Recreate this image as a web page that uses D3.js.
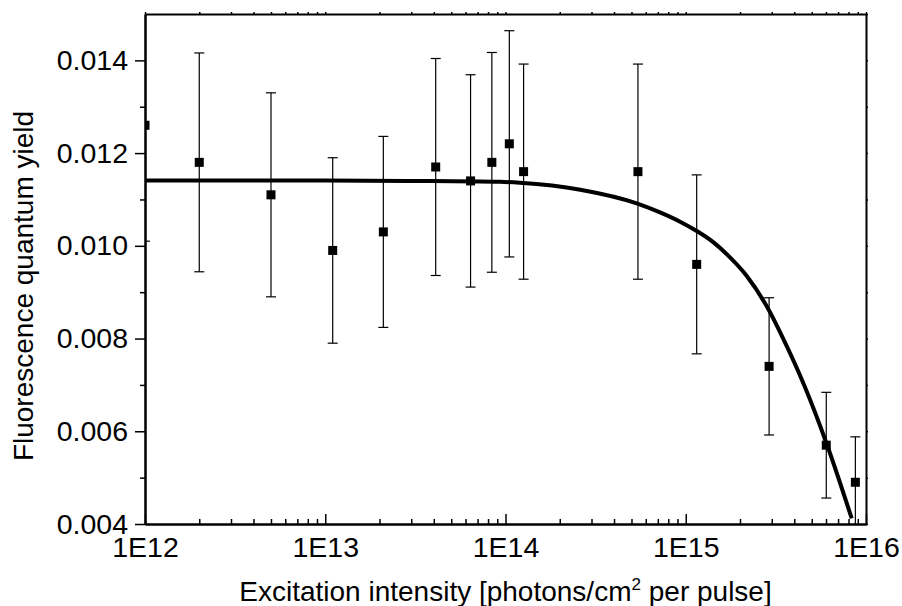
<!DOCTYPE html>
<html>
<head>
<meta charset="utf-8">
<script src="https://cdn.jsdelivr.net/npm/d3@7"></script>
<style>
  body { margin: 0; background: #fff; }
  text { font-family: "Liberation Sans", Arial, sans-serif; fill: #000; }
</style>
</head>
<body>
<svg id="plot" width="902" height="606"></svg>
<script>
// measured points (photons/cm^2 per pulse, quantum yield, error)
const intensity = [1e12, 2e12, 5e12, 1.1e13, 2.1e13, 4.1e13, 6.4e13, 8.4e13, 1.05e14, 1.26e14, 5.43e14, 1.15e15, 2.9e15, 6.02e15, 8.73e15];
const yieldVals = [0.0126, 0.0118, 0.0111, 0.0099, 0.0103, 0.0117, 0.0114, 0.0118, 0.0122, 0.0116, 0.0116, 0.0096, 0.0074, 0.0057, 0.0049];
const yieldErr = [0.0025, 0.00236, 0.0022, 0.002, 0.00206, 0.00234, 0.00229, 0.00237, 0.00244, 0.00232, 0.00232, 0.00193, 0.00148, 0.00114, 0.00098];

// fit curve
const fitIntensity = [1e12, 1e13, 3e13, 9.3e13, 1.2e14, 2.6e14, 5.4e14, 7.2e14, 9.3e14, 1.15e15, 1.42e15, 1.76e15, 2.18e15, 2.81e15, 3.45e15, 4.59e15, 6.05e15, 8.33e15];
const fitYield = [0.01141, 0.01141, 0.0114, 0.01138, 0.01136, 0.01121, 0.01091, 0.01072, 0.01052, 0.01032, 0.01008, 0.00975, 0.00935, 0.0087, 0.00802, 0.00695, 0.00573, 0.00412];

const xTicks = [1e12, 1e13, 1e14, 1e15, 1e16];
const xTickLabels = ['1E12', '1E13', '1E14', '1E15', '1E16'];
const yTicks = [0.004, 0.006, 0.008, 0.010, 0.012, 0.014];
const yMinorTicks = [0.005, 0.007, 0.009, 0.011, 0.013];

const svg = d3.select('#plot');
const margin = { top: 14, right: 36, bottom: 82, left: 145 };
const width = 902 - margin.left - margin.right;
const height = 606 - margin.top - margin.bottom;
const fontSize = 28.5;

const chart = svg.append('g')
  .attr('transform', `translate(${margin.left}, ${margin.top})`);

const xScale = d3.scaleLog().domain([1e12, 1e16]).range([0, width]);
const yScale = d3.scaleLinear().domain([0.004, 0.015]).range([height, 0]);

chart.append('clipPath').attr('id', 'clip')
  .append('rect').attr('width', width).attr('height', height);

// minor log ticks
const xMinor = [];
for (let d = 12; d < 16; d++) {
  for (let m = 2; m <= 9; m++) xMinor.push(m * Math.pow(10, d));
}
const yAll = d3.range(0.004, 0.0151, 0.001);

function styleAxis(g) {
  g.select('.domain').attr('stroke-width', 2);
  g.selectAll('.tick line').attr('stroke-width', 1.5);
  g.selectAll('text').attr('font-size', fontSize)
    .attr('font-family', '"Liberation Sans", Arial, sans-serif');
}

// top and right frame with tiny ticks
chart.append('g')
  .call(d3.axisTop(xScale).tickValues(xTicks.concat(xMinor)).tickSize(2).tickSizeOuter(0).tickFormat(''))
  .call(styleAxis);
chart.append('g')
  .attr('transform', `translate(${width}, 0)`)
  .call(d3.axisRight(yScale).tickValues(yAll).tickSize(2).tickSizeOuter(0).tickFormat(''))
  .call(styleAxis);

// bottom axis, ticks pointing in
chart.append('g')
  .attr('transform', `translate(0, ${height})`)
  .call(d3.axisBottom(xScale).tickValues(xMinor).tickSize(-5).tickSizeOuter(0).tickFormat(''))
  .call(styleAxis);
chart.append('g')
  .attr('transform', `translate(0, ${height})`)
  .call(d3.axisBottom(xScale).tickValues(xTicks).tickSize(-10).tickSizeOuter(0).tickPadding(13)
    .tickFormat((d, i) => xTickLabels[i]))
  .call(styleAxis);

// left axis, ticks pointing out
chart.append('g')
  .call(d3.axisLeft(yScale).tickValues(yMinorTicks).tickSize(5).tickSizeOuter(0).tickFormat(''))
  .call(styleAxis);
chart.append('g')
  .call(d3.axisLeft(yScale).tickValues(yTicks).tickSize(10).tickSizeOuter(0).tickPadding(7)
    .tickFormat(d3.format('.3f')))
  .call(styleAxis);

const points = intensity.map((v, i) => ({ x: v, y: yieldVals[i], e: yieldErr[i] }));
const plot = chart.append('g').attr('clip-path', 'url(#clip)');

// error bars
const bars = plot.selectAll('.err').data(points).enter().append('g').attr('class', 'err')
  .attr('stroke', '#000').attr('stroke-width', 1.2);
bars.append('line')
  .attr('x1', (d) => xScale(d.x)).attr('x2', (d) => xScale(d.x))
  .attr('y1', (d) => yScale(d.y - d.e)).attr('y2', (d) => yScale(d.y + d.e));
bars.append('line')
  .attr('x1', (d) => xScale(d.x) - 5).attr('x2', (d) => xScale(d.x) + 5)
  .attr('y1', (d) => yScale(d.y + d.e)).attr('y2', (d) => yScale(d.y + d.e));
bars.append('line')
  .attr('x1', (d) => xScale(d.x) - 5).attr('x2', (d) => xScale(d.x) + 5)
  .attr('y1', (d) => yScale(d.y - d.e)).attr('y2', (d) => yScale(d.y - d.e));

// fit curve
const fit = fitIntensity.map((v, i) => [v, fitYield[i]]);
plot.append('path')
  .datum(fit)
  .attr('fill', 'none')
  .attr('stroke', '#000')
  .attr('stroke-width', 4)
  .attr('d', d3.line().x((d) => xScale(d[0])).y((d) => yScale(d[1])).curve(d3.curveMonotoneX));

// squares
const sq = 9;
plot.selectAll('.pt').data(points).enter().append('rect')
  .attr('class', 'pt')
  .attr('x', (d) => xScale(d.x) - sq / 2)
  .attr('y', (d) => yScale(d.y) - sq / 2)
  .attr('width', sq).attr('height', sq)
  .attr('fill', '#000');

// axis titles
const xTitle = svg.append('text')
  .attr('x', margin.left + width / 2)
  .attr('y', 601)
  .attr('text-anchor', 'middle')
  .attr('font-size', 28);
xTitle.append('tspan').text('Excitation intensity [photons/cm');
xTitle.append('tspan').attr('font-size', 17).attr('dy', -11).text('2');
xTitle.append('tspan').attr('dy', 11).text(' per pulse]');

svg.append('text')
  .attr('transform', 'translate(33, 286) rotate(-90)')
  .attr('text-anchor', 'middle')
  .attr('font-size', 28)
  .text('Fluorescence quantum yield');
</script>
</body>
</html>
